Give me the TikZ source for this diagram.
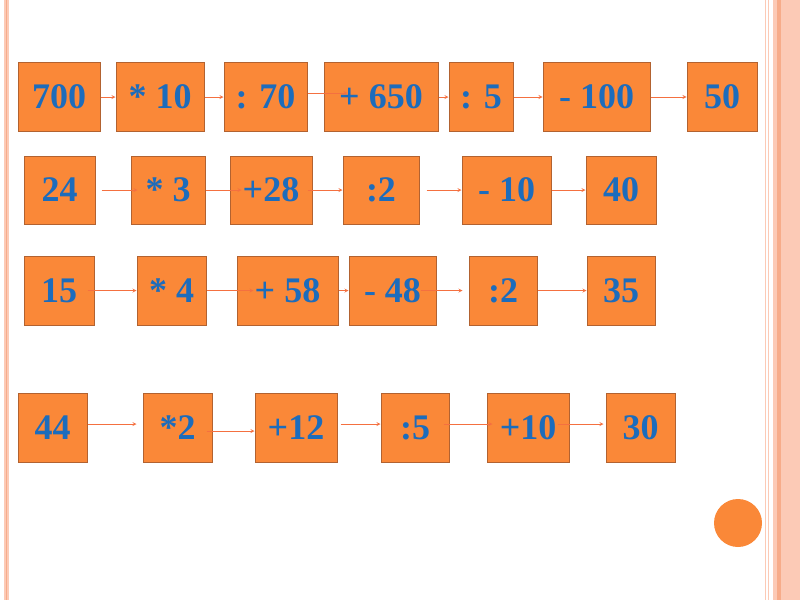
\documentclass[tikz,border=0pt]{standalone}
\usepackage{fontspec}
\setmainfont{Liberation Serif}
\usepackage{tikz}

\definecolor{boxfill}{RGB}{250,136,56}
\definecolor{boxedge}{RGB}{178,98,48}
\definecolor{numblue}{RGB}{28,108,188}
\definecolor{arrowred}{RGB}{244,112,64}
\definecolor{bordlight}{RGB}{252,202,182}
\definecolor{bordmid}{RGB}{247,172,138}

\tikzset{
  >=stealth,
  numbox/.style={draw=boxedge, fill=boxfill, line width=1pt, minimum height=69pt,
    inner sep=0pt, text=numblue, font=\fontsize{36}{40}\selectfont\bfseries},
  link/.style={->, draw=arrowred, line width=0.8pt}
}

\begin{document}
\begin{tikzpicture}[x=1pt,y=-1pt]
        \useasboundingbox (0,0) rectangle (800,600);

        % Draw the frame
        \fill[bordlight] (4,0) rectangle (9,600);  % left band
        \draw[bordmid, line width=1pt] (6.5,0) -- (6.5,600);
        \draw[bordlight, line width=1pt] (765.5,0) -- (765.5,600);  % right thin lines
        \draw[bordlight, line width=1pt] (768,0) -- (768,600);
        \fill[bordlight] (773,0) rectangle (800,600);  % right band
        \fill[bordmid] (777,0) rectangle (781,600);

        % Row 1
        \node[numbox, minimum width=82pt] (r1a) at (59,97) {700};
        \node[numbox, minimum width=88pt] (r1b) at (160,97) {* 10};
        \node[numbox, minimum width=83pt] (r1c) at (265.5,97) {: 70};
        \node[numbox, minimum width=114pt] (r1d) at (381,97) {+ 650};
        \node[numbox, minimum width=64pt] (r1e) at (481,97) {: 5};
        \node[numbox, minimum width=107pt] (r1f) at (596.5,97) {- 100};
        \node[numbox, minimum width=70pt] (r1g) at (722,97) {50};

        % Row 2
        \node[numbox, minimum width=71pt, minimum height=68pt] (r2a) at (59.5,190) {24};
        \node[numbox, minimum width=74pt, minimum height=68pt] (r2b) at (168,190) {* 3};
        \node[numbox, minimum width=82pt, minimum height=68pt] (r2c) at (271,190) {+28};
        \node[numbox, minimum width=76pt, minimum height=68pt] (r2d) at (381,190) {:2};
        \node[numbox, minimum width=89pt, minimum height=68pt] (r2e) at (506.5,190) {- 10};
        \node[numbox, minimum width=70pt, minimum height=68pt] (r2f) at (621,190) {40};

        % Row 3
        \node[numbox, minimum width=70pt] (r3a) at (59,290.5) {15};
        \node[numbox, minimum width=69pt] (r3b) at (171.5,290.5) {* 4};
        \node[numbox, minimum width=101pt] (r3c) at (287.5,290.5) {+ 58};
        \node[numbox, minimum width=87pt] (r3d) at (392.5,290.5) {- 48};
        \node[numbox, minimum width=68pt] (r3e) at (503,290.5) {:2};
        \node[numbox, minimum width=68pt] (r3f) at (621,290.5) {35};

        % Row 4
        \node[numbox, minimum width=69pt] (r4a) at (52.5,428) {44};
        \node[numbox, minimum width=69pt] (r4b) at (177.5,428) {*2};
        \node[numbox, minimum width=82pt] (r4c) at (296,428) {+12};
        \node[numbox, minimum width=68pt] (r4d) at (415,428) {:5};
        \node[numbox, minimum width=82pt] (r4e) at (528,428) {+10};
        \node[numbox, minimum width=69pt] (r4f) at (640.5,428) {30};

        % Arrows, row 1
        \draw[link] (r1a.east) -- (r1b.west);
        \draw[link] (r1b.east) -- (r1c.west);
        \draw[link] ([yshift=4pt]r1c.east) -- ([xshift=24pt,yshift=4pt]r1d.west);
        \draw[link] (r1d.east) -- (r1e.west);
        \draw[link] (r1e.east) -- (r1f.west);
        \draw[link] (r1f.east) -- (r1g.west);

        % Arrows, row 2
        \draw[link] ([xshift=6pt]r2a.east) -- ([xshift=7pt]r2b.west);
        \draw[link] (r2b.east) -- ([xshift=12pt]r2c.west);
        \draw[link] ([xshift=-5pt]r2c.east) -- (r2d.west);
        \draw[link] ([xshift=7pt]r2d.east) -- (r2e.west);
        \draw[link] (r2e.east) -- (r2f.west);

        % Arrows, row 3
        \draw[link] ([xshift=-7pt]r3a.east) -- (r3b.west);
        \draw[link] (r3b.east) -- ([xshift=17pt]r3c.west);
        \draw[link] (r3c.east) -- (r3d.west);
        \draw[link] ([xshift=-16pt]r3d.east) -- ([xshift=-6pt]r3e.west);
        \draw[link] (r3e.east) -- (r3f.west);

        % Arrows, row 4
        \draw[link] ([yshift=4pt]r4a.east) -- ([xshift=-6pt,yshift=4pt]r4b.west);
        \draw[link] ([xshift=-6pt,yshift=-3pt]r4b.east) -- ([yshift=-3pt]r4c.west);
        \draw[link] ([xshift=3pt,yshift=4pt]r4c.east) -- ([yshift=4pt]r4d.west);
        \draw[link] ([xshift=-6pt,yshift=4pt]r4d.east) -- ([xshift=6pt,yshift=4pt]r4e.west);
        \draw[link] ([xshift=-12pt,yshift=4pt]r4e.east) -- ([xshift=-2pt,yshift=4pt]r4f.west);

        % Corner dot
        \fill[boxfill] (738,523) circle (24);
\end{tikzpicture}
\end{document}
